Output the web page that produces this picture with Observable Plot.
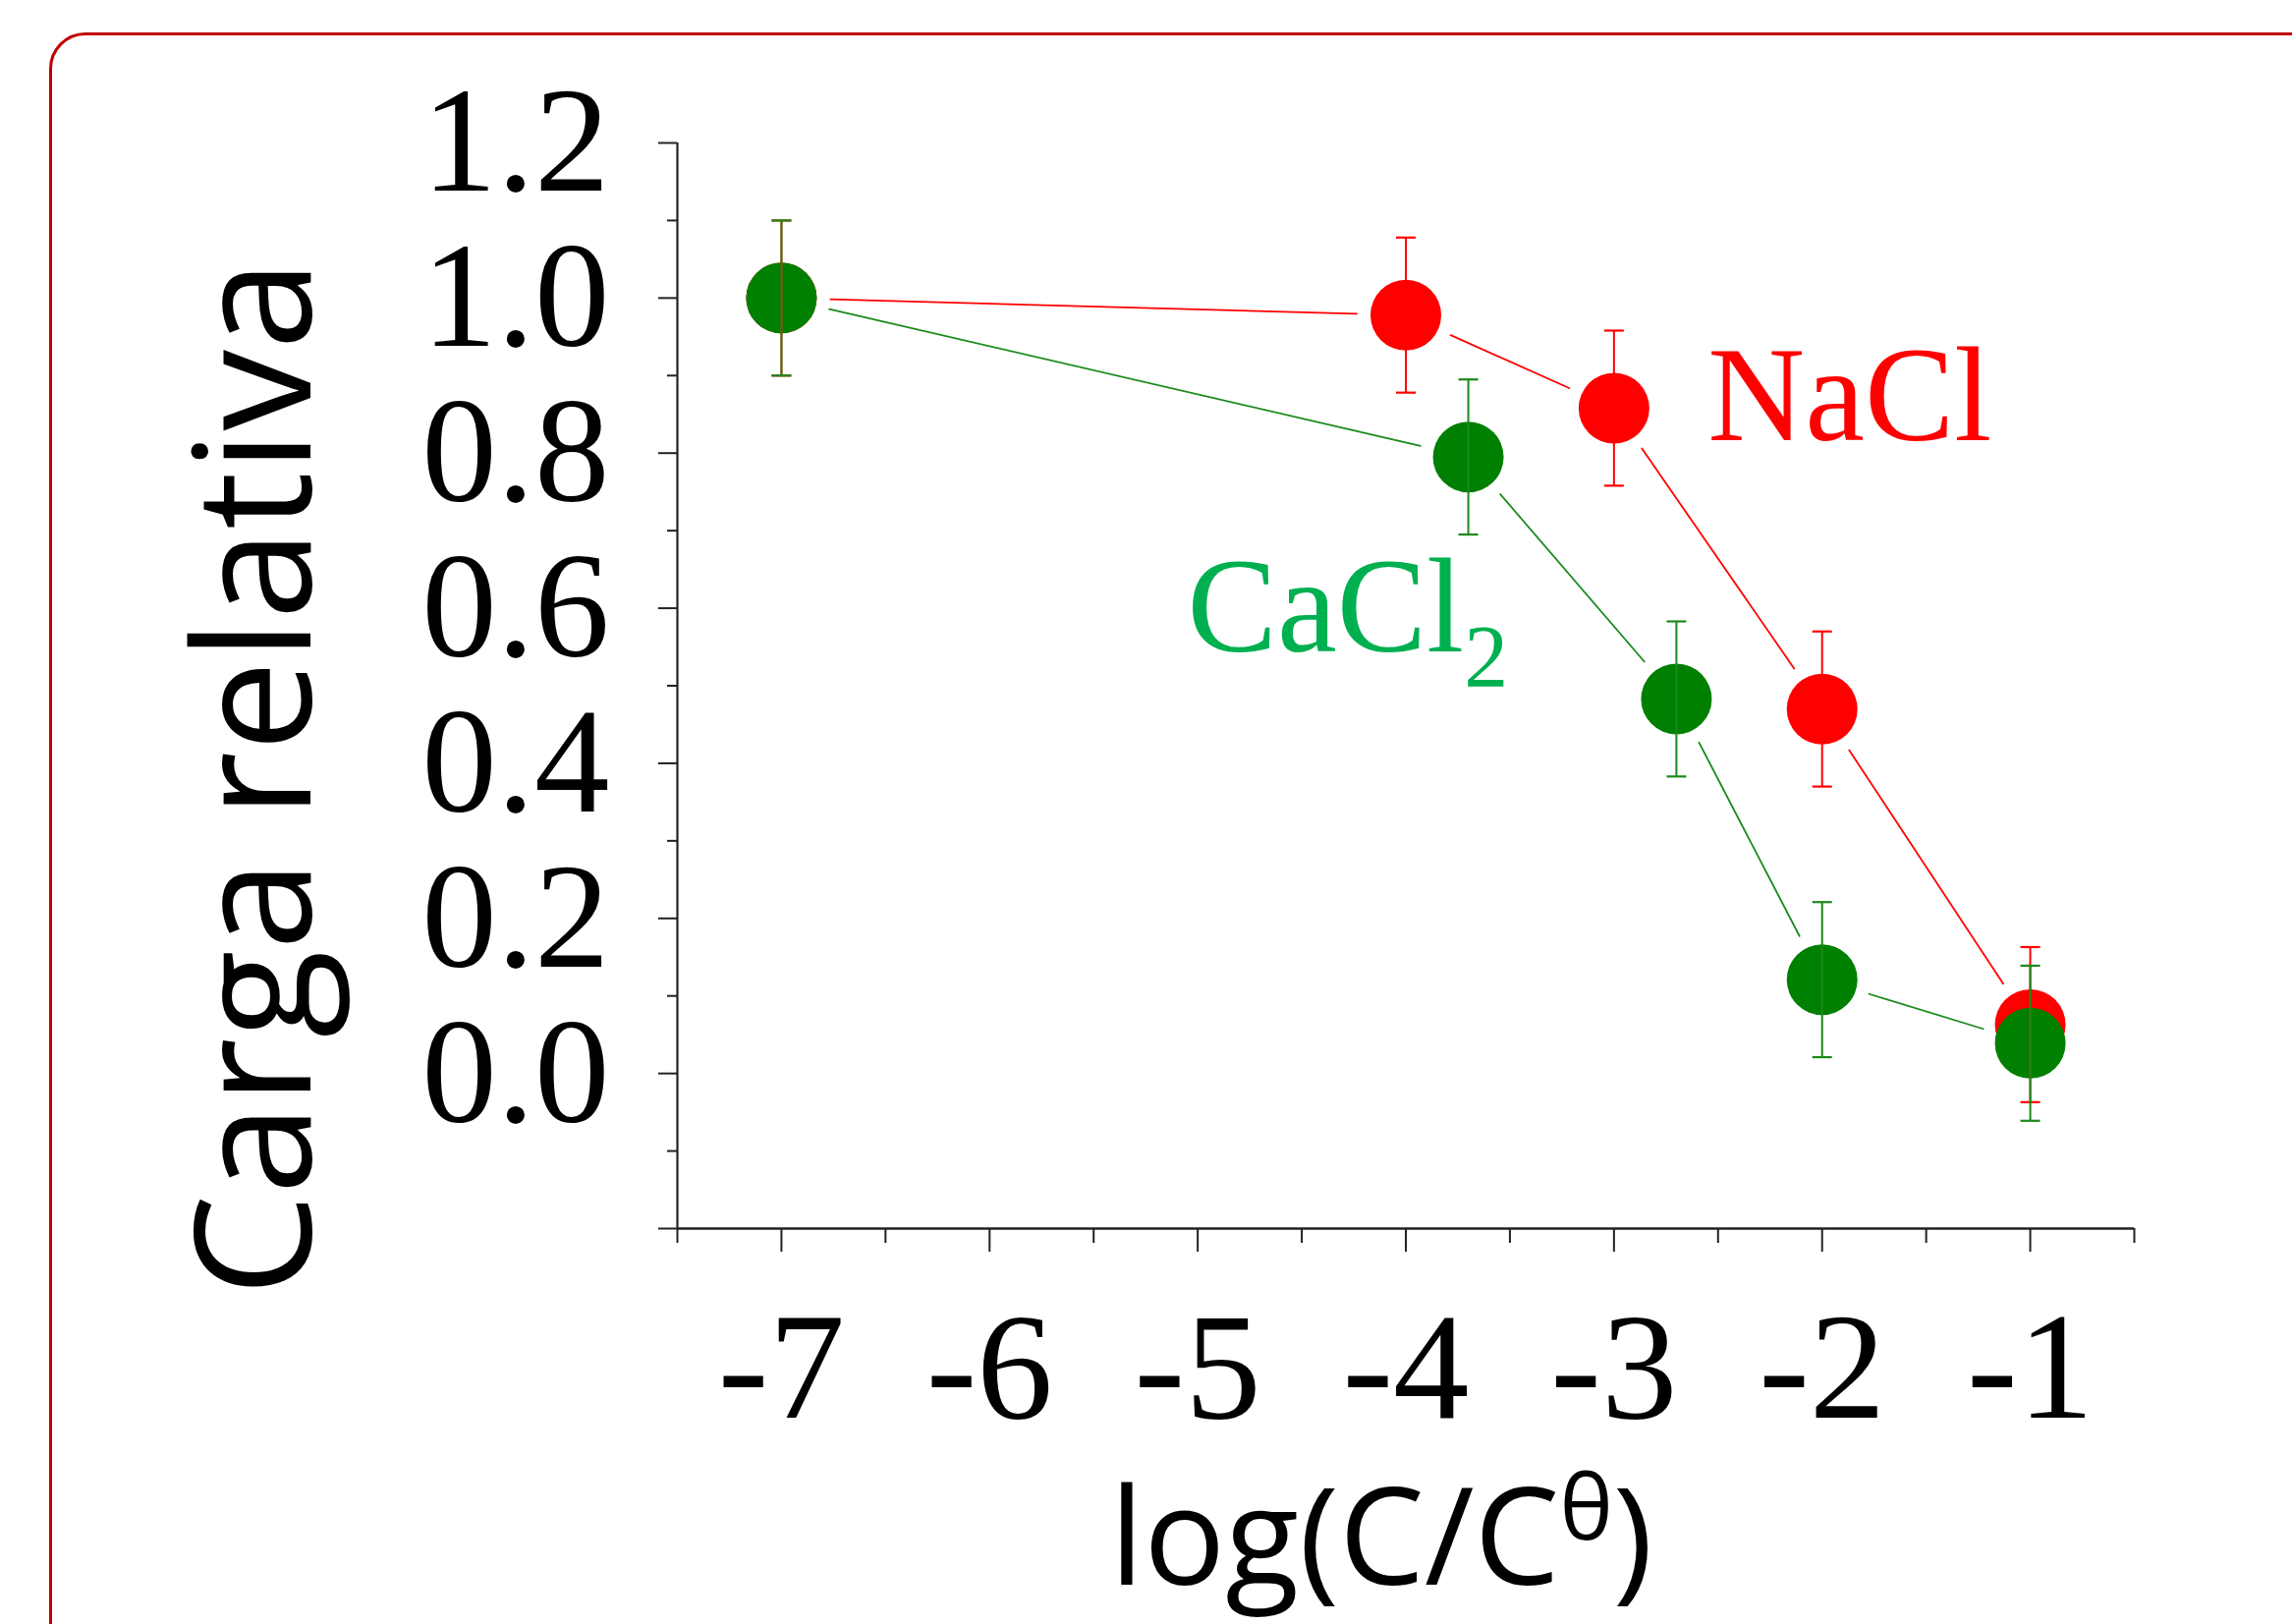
<!DOCTYPE html>
<html>
<head>
<meta charset="utf-8">
<script src="https://cdn.jsdelivr.net/npm/d3@7"></script>
<script src="https://cdn.jsdelivr.net/npm/@observablehq/plot@0.6"></script>
<style>
html, body { margin: 0; padding: 0; background: #fff; overflow: hidden; width: 2333px; height: 1653px; }
#chart { position: absolute; left: 0; top: 0; }
#frame { position: absolute; left: 50px; top: 33px; width: 3000px; height: 3000px;
         border: 3px solid #c00000; border-radius: 37px; box-sizing: border-box; pointer-events: none; }
</style>
</head>
<body>
<div id="chart"></div>
<div id="frame"></div>
<script>
// ---- data ----
const naclX    = [-7, -4, -3, -2, -1];
const naclY    = [1.00, 0.978, 0.858, 0.470, 0.063];
const naclErr  = [0.10, 0.10, 0.10, 0.10, 0.10];

const cacl2X   = [-7, -3.7, -2.7, -2, -1];
const cacl2Y   = [1.00, 0.795, 0.483, 0.121, 0.039];
const cacl2Err = [0.10, 0.10, 0.10, 0.10, 0.10];

const xMajorTicks = [-7, -6, -5, -4, -3, -2, -1];
const xMinorTicks = [-7.5, -6.5, -5.5, -4.5, -3.5, -2.5, -1.5, -0.5];
const yMajorTicks = [-0.2, 0.0, 0.2, 0.4, 0.6, 0.8, 1.0, 1.2];
const yMinorTicks = [-0.1, 0.1, 0.3, 0.5, 0.7, 0.9, 1.1];

const xDomain = [-7.5, -0.5];
const yDomain = [-0.2, 1.2];

const yTitle = "Carga relativa";
const xTitle = "log(C/Cθ)";

// series label anchors (data space)
const annotations = [
  {series: "NaCl",  text: "NaCl",  x: -2.55, y: 0.817},
  {series: "CaCl2", text: "CaCl₂", x: -5.05, y: 0.544}
];

// ---- styles ----
const styles = {
  NaCl:  {marker: "#ff0000", line: "#ff0000", bar: "#ff0000", label: "#ff0000"},
  CaCl2: {marker: "#008000", line: "#1a8a1a", bar: "#1a8a1a", label: "#00b050"}
};
const axisColor = "#222";

function rows(xs, ys, es) { return xs.map((x, i) => ({x, y: ys[i], err: es[i]})); }
function segments(r) { return r.slice(1).map((d, i) => ({x1: r[i].x, y1: r[i].y, x2: d.x, y2: d.y})); }

const naclRows  = rows(naclX, naclY, naclErr);
const cacl2Rows = rows(cacl2X, cacl2Y, cacl2Err);

const capSymbol = {
  draw(context, size) {
    const w = Math.sqrt(size / Math.PI);
    context.moveTo(-w, 0);
    context.lineTo(w, 0);
  }
};
function caps(r) {
  return r.flatMap(d => [{x: d.x, y: d.y + d.err}, {x: d.x, y: d.y - d.err}]);
}

const marks = [
  // axis lines
  Plot.ruleX([xDomain[0]], {stroke: axisColor, strokeWidth: 2.2}),
  Plot.ruleY([yDomain[0]], {stroke: axisColor, strokeWidth: 2.6}),
  // axes
  Plot.axisY(yMajorTicks, {tickSize: 19, tickPadding: 50, stroke: axisColor, strokeWidth: 2,
    tickFormat: d => d < 0 ? "" : d.toFixed(1), fontFamily: "Liberation Serif", fontSize: 153, label: null}),
  Plot.axisY(yMinorTicks, {tickSize: 10, stroke: axisColor, strokeWidth: 2, tickFormat: () => "", label: null}),
  Plot.axisX(xMajorTicks, {tickSize: 24, tickPadding: 58, stroke: axisColor, strokeWidth: 2,
    tickFormat: d => String(d), fontFamily: "Liberation Serif", fontSize: 155, label: null}),
  Plot.axisX(xMinorTicks, {tickSize: 15, stroke: axisColor, strokeWidth: 2, tickFormat: () => "", label: null}),
  // connecting lines with gaps at the markers
  Plot.arrow(segments(naclRows), {x1: "x1", y1: "y1", x2: "x2", y2: "y2", bend: 0, headLength: 0,
    insetStart: 50, insetEnd: 50, stroke: styles.NaCl.line, strokeWidth: 1.8}),
  Plot.arrow(segments(cacl2Rows), {x1: "x1", y1: "y1", x2: "x2", y2: "y2", bend: 0, headLength: 0,
    insetStart: 50, insetEnd: 50, stroke: styles.CaCl2.line, strokeWidth: 1.8}),
  // markers
  Plot.dot(naclRows, {x: "x", y: "y", r: 36, fill: styles.NaCl.marker, stroke: "none"}),
  Plot.dot(cacl2Rows, {x: "x", y: "y", r: 36, fill: styles.CaCl2.marker, stroke: "none"}),
  // error bars
  Plot.ruleX(naclRows, {x: "x", y1: d => d.y - d.err, y2: d => d.y + d.err, stroke: styles.NaCl.bar, strokeWidth: 2}),
  Plot.dot(caps(naclRows), {x: "x", y: "y", r: 10, symbol: capSymbol, fill: "none", stroke: styles.NaCl.bar, strokeWidth: 2.2}),
  Plot.ruleX(cacl2Rows, {x: "x", y1: d => d.y - d.err, y2: d => d.y + d.err, stroke: styles.CaCl2.bar, strokeWidth: 2}),
  Plot.dot(caps(cacl2Rows), {x: "x", y: "y", r: 10, symbol: capSymbol, fill: "none", stroke: styles.CaCl2.bar, strokeWidth: 2.2}),
  // series labels
  Plot.text(annotations, {x: "x", y: "y", text: "text", fill: d => styles[d.series].label,
    textAnchor: "start", lineAnchor: "bottom", fontFamily: "Liberation Serif", fontSize: 137}),
  // axis titles
  Plot.text([yTitle], {frameAnchor: "left", rotate: -90, dx: -374, dy: 94, textAnchor: "middle",
    lineAnchor: "bottom", fontFamily: "Open Sans", fontSize: 165, fill: "#000"}),
  Plot.text([xTitle], {frameAnchor: "bottom", dx: -25, dy: 362, textAnchor: "middle",
    lineAnchor: "bottom", fontFamily: "Open Sans", fontSize: 138, fill: "#000"})
];

const chart = Plot.plot({
  width: 2333,
  height: 1653,
  marginLeft: 689,
  marginRight: 161,
  marginTop: 145,
  marginBottom: 403,
  x: {domain: xDomain},
  y: {domain: yDomain},
  color: {type: "identity"},
  style: {background: "transparent", fontFamily: "Liberation Serif", overflow: "visible", color: "#000"},
  marks
});

// typographic touch-ups: superscript θ and subscript 2
const NS = "http://www.w3.org/2000/svg";
chart.querySelectorAll("text").forEach(t => {
  if (t.textContent === xTitle) {
    t.textContent = "log(C/C";
    const sup = document.createElementNS(NS, "tspan");
    sup.setAttribute("font-size", "92");
    sup.setAttribute("dy", "-46");
    sup.textContent = "θ";
    const close = document.createElementNS(NS, "tspan");
    close.setAttribute("font-size", "138");
    close.setAttribute("dy", "46");
    close.textContent = ")";
    t.appendChild(sup);
    t.appendChild(close);
  } else if (t.textContent === "CaCl₂") {
    t.textContent = "CaCl";
    const sub = document.createElementNS(NS, "tspan");
    sub.setAttribute("font-size", "90");
    sub.setAttribute("dy", "36");
    sub.textContent = "2";
    t.appendChild(sub);
  }
});

document.getElementById("chart").appendChild(chart);
</script>
</body>
</html>
